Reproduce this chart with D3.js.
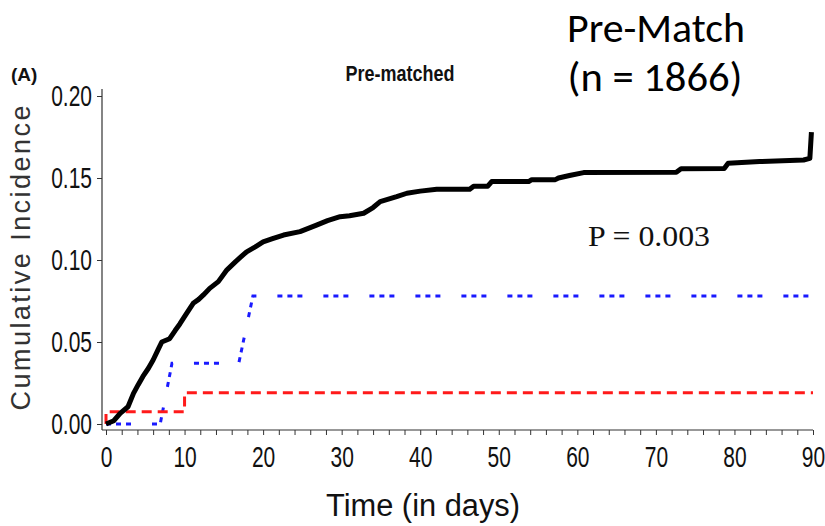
<!DOCTYPE html>
<html>
<head>
<meta charset="utf-8">
<script src="https://cdn.jsdelivr.net/npm/d3@7"></script>
<style>
  html, body { margin: 0; padding: 0; background: #fff; }
  svg { display: block; }
</style>
</head>
<body>
<svg id="chart" width="825" height="526"></svg>
<script>
// Cumulative incidence by group, days 0-90
const xTicks = [0, 10, 20, 30, 40, 50, 60, 70, 80, 90];
const yTicks = [0.00, 0.05, 0.10, 0.15, 0.20];

// Overall (black, solid)
const blackDays = [0, 1, 1.8, 2.8, 3.5, 4.1, 4.7, 5.4, 6.0, 6.6, 7.1, 8.1, 8.8, 9.4, 10.2, 11.1, 11.8, 12.4, 13.2, 14.3, 15.4, 16.5, 17.2, 17.9, 19.0, 20.0, 21.2, 22.6, 24.7, 26.8, 28.2, 29.8, 31.0, 32.8, 34.0, 34.9, 37.0, 38.3, 40.0, 42.1, 46.3, 46.8, 48.6, 49.1, 53.8, 54.2, 57.2, 57.6, 59.0, 60.8, 72.6, 73.2, 78.7, 79.2, 83.2, 88.8, 89.6, 89.8];
const blackVals = [0, 0.002, 0.0065, 0.0105, 0.0187, 0.024, 0.029, 0.034, 0.039, 0.045, 0.050, 0.052, 0.057, 0.061, 0.067, 0.0736, 0.076, 0.0787, 0.0827, 0.0868, 0.094, 0.099, 0.102, 0.105, 0.108, 0.111, 0.113, 0.1152, 0.1173, 0.1213, 0.124, 0.1264, 0.127, 0.1285, 0.132, 0.1356, 0.1386, 0.1407, 0.142, 0.1431, 0.1431, 0.145, 0.145, 0.1478, 0.1478, 0.149, 0.149, 0.150, 0.1515, 0.1533, 0.1535, 0.1556, 0.1558, 0.159, 0.160, 0.161, 0.162, 0.178];

// Red, dashed (step)
const redDays = [0, 0, 10, 90];
const redVals = [0, 0.0075, 0.019, 0.019];

// Blue, dotted
const blueDays = [0, 6.9, 8.4, 16.9, 18.7, 90];
const blueVals = [0, 0, 0.037, 0.037, 0.078, 0.078];

const svg = d3.select("#chart");

const x = d3.scaleLinear().domain([0, 90]).range([106, 813]);
const y = d3.scaleLinear().domain([0, 0.20]).range([424, 96]);

const axisX = 102;   // y-axis line position
const axisY = 430;   // x-axis line position
const tickFont = "'Liberation Sans', Arial, sans-serif";
const squeeze = 0.7; // condensed tick lettering

// Y axis
const yAxis = svg.append("g")
  .attr("transform", `translate(${axisX},0)`)
  .call(d3.axisLeft(y).tickValues(yTicks).tickFormat(d3.format(".2f")).tickSize(5).tickPadding(5));
yAxis.select(".domain").remove();
yAxis.append("line").attr("x1", 0).attr("x2", 0).attr("y1", 89).attr("y2", axisY)
  .attr("stroke", "#333").attr("stroke-width", 1.2);
yAxis.selectAll(".tick line").attr("stroke", "#333");
yAxis.selectAll(".tick text")
  .attr("font-family", tickFont).attr("font-size", 30).attr("fill", "#111")
  .attr("x", -10 / squeeze)
  .attr("transform", `scale(${squeeze},1)`);

// X axis: minor ticks every 2 days, labels every 10
const xAxis = svg.append("g")
  .attr("transform", `translate(0,${axisY})`)
  .call(d3.axisBottom(x).tickValues(d3.range(0, 91, 2)).tickSize(5).tickPadding(11)
    .tickFormat(d => xTicks.includes(d) ? d : ""));
xAxis.select(".domain").remove();
xAxis.append("line").attr("x1", axisX).attr("x2", x(90)).attr("y1", 0).attr("y2", 0)
  .attr("stroke", "#333").attr("stroke-width", 1.2);
xAxis.selectAll(".tick line").attr("stroke", "#333");
xAxis.selectAll(".tick text")
  .attr("font-family", tickFont).attr("font-size", 30).attr("fill", "#111")
  .attr("transform", `scale(${squeeze},1)`);

// Curves
const stepLine = d3.line().x(d => x(d[0])).y(d => y(d[1])).curve(d3.curveStepAfter);
const polyLine = d3.line().x(d => x(d[0])).y(d => y(d[1]));

svg.append("path")
  .datum(blueDays.map((d, i) => [d, blueVals[i]]))
  .attr("d", polyLine)
  .attr("fill", "none").attr("stroke", "#1a1aff").attr("stroke-width", 3)
  .attr("stroke-dasharray", "5,5,5,5,5,21");

svg.append("path")
  .datum(redDays.map((d, i) => [d, redVals[i]]))
  .attr("d", stepLine)
  .attr("fill", "none").attr("stroke", "#ff1a1a").attr("stroke-width", 3)
  .attr("stroke-dasharray", "10,6");

svg.append("path")
  .datum(blackDays.map((d, i) => [d, blackVals[i]]))
  .attr("d", polyLine)
  .attr("fill", "none").attr("stroke", "#000").attr("stroke-width", 5)
  .attr("stroke-linejoin", "round");

// Axis titles
svg.append("text")
  .attr("x", 423).attr("y", 516)
  .attr("text-anchor", "middle")
  .attr("font-family", tickFont)
  .attr("font-size", 31).attr("fill", "#111")
  .attr("textLength", 194).attr("lengthAdjust", "spacingAndGlyphs")
  .text("Time (in days)");

svg.append("text")
  .attr("transform", "translate(30,258) rotate(-90)")
  .attr("text-anchor", "middle")
  .attr("font-family", tickFont)
  .attr("font-size", 27).attr("fill", "#333")
  .attr("textLength", 305).attr("lengthAdjust", "spacing")
  .text("Cumulative Incidence");

// Panel label and title
svg.append("text")
  .attr("x", 11).attr("y", 81)
  .attr("font-family", tickFont)
  .attr("font-weight", "bold").attr("font-size", 19).attr("fill", "#111")
  .text("(A)");

svg.append("text")
  .attr("x", 400).attr("y", 81)
  .attr("text-anchor", "middle")
  .attr("font-family", tickFont)
  .attr("font-weight", "bold").attr("font-size", 22).attr("fill", "#111")
  .attr("textLength", 109).attr("lengthAdjust", "spacingAndGlyphs")
  .text("Pre-matched");

// Group annotation
const noteFont = "Carlito, 'Open Sans', 'Noto Sans', sans-serif";
svg.append("text")
  .attr("x", 656).attr("y", 42)
  .attr("text-anchor", "middle")
  .attr("font-family", noteFont).attr("font-size", 41).attr("fill", "#000")
  .attr("textLength", 178).attr("lengthAdjust", "spacingAndGlyphs")
  .text("Pre-Match");
svg.append("text")
  .attr("x", 655).attr("y", 91)
  .attr("text-anchor", "middle")
  .attr("font-family", noteFont).attr("font-size", 41).attr("fill", "#000")
  .attr("textLength", 175).attr("lengthAdjust", "spacingAndGlyphs")
  .text("(n = 1866)");

svg.append("text")
  .attr("x", 649).attr("y", 246)
  .attr("text-anchor", "middle")
  .attr("font-family", "'Liberation Serif', 'Times New Roman', serif")
  .attr("font-size", 30).attr("fill", "#111")
  .attr("textLength", 122).attr("lengthAdjust", "spacingAndGlyphs")
  .text("P = 0.003");
</script>
</body>
</html>
